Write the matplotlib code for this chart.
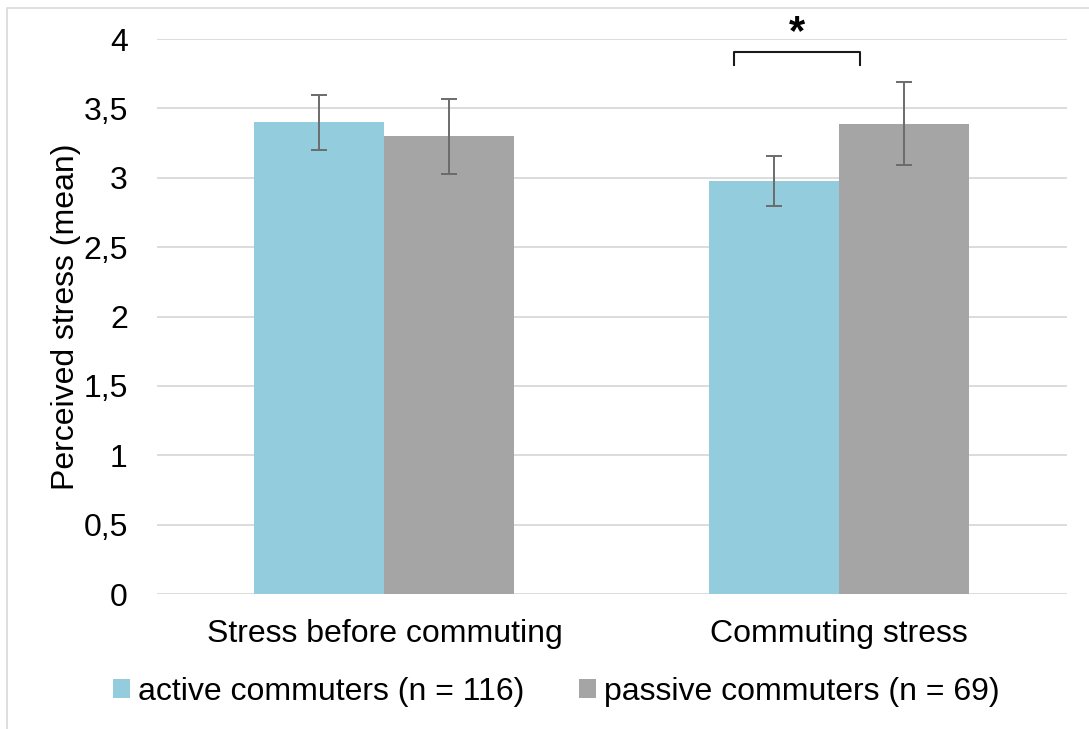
import matplotlib
matplotlib.use("Agg")
import matplotlib.pyplot as plt
from matplotlib.patches import Rectangle, Patch
import numpy as np

plt.rcParams['font.family'] = ['Liberation Sans', 'DejaVu Sans']

categories = ["Stress before commuting", "Commuting stress"]
series_names = ["active commuters (n = 116)", "passive commuters (n = 69)"]
active_means = [3.40, 2.98]
active_err = [0.20, 0.18]
passive_means = [3.30, 3.39]
passive_err = [0.27, 0.30]
y_ticks = [0, 0.5, 1, 1.5, 2, 2.5, 3, 3.5, 4]
y_tick_labels = ["0", "0,5", "1", "1,5", "2", "2,5", "3", "3,5", "4"]
y_label = "Perceived stress (mean)"

W, H = 1089, 729
FS = 23
fig = plt.figure(figsize=(W / 100, H / 100), dpi=100)

# light chart-area frame
fig.patches.append(Rectangle((7 / W, -0.05), 1.2, 1 - 8 / H + 0.05,
                             transform=fig.transFigure, fill=False,
                             edgecolor="#D9D9D9", linewidth=1.2))

ax = fig.add_axes([157 / W, (729 - 594) / H, (1066.7 - 157) / W, (594 - 39) / H])

x = np.arange(len(categories))
bw = 0.2858
c_active = "#93CDDD"
c_passive = "#A5A5A5"
err_kw = dict(ecolor="#6B6B6B", elinewidth=1.4, capsize=6, capthick=1.4)

ax.bar(x - bw / 2, active_means, bw, color=c_active, yerr=active_err,
       error_kw=err_kw, zorder=2, label=series_names[0])
ax.bar(x + bw / 2, passive_means, bw, color=c_passive, yerr=passive_err,
       error_kw=err_kw, zorder=2, label=series_names[1])

ax.set_xlim(-0.5, 1.5)
ax.set_ylim(0, 4)
ax.set_yticks(y_ticks)
ax.set_yticklabels(y_tick_labels)
ax.yaxis.grid(True, color="#D9D9D9", linewidth=1.3, zorder=0)
ax.set_axisbelow(True)
for s in ax.spines.values():
    s.set_visible(False)
ax.tick_params(axis="y", length=0, pad=21, labelsize=FS)
ax.set_xticks(x)
ax.set_xticklabels(categories)
ax.tick_params(axis="x", length=0, pad=18, labelsize=FS)
ax.set_ylabel(y_label, fontsize=FS, labelpad=2)

# significance bracket over the commuting-stress pair
bx0, bx1, btop, bleg = 0.769, 1.046, 3.904, 3.81
ax.plot([bx0, bx0, bx1, bx1], [bleg, btop, btop, bleg], color="#1A1A1A",
        linewidth=1.5, solid_joinstyle="round", clip_on=False, zorder=3)
ax.text((bx0 + bx1) / 2, 4.045, "*", ha="center", va="center", fontsize=30,
        fontweight="bold", clip_on=False)

handles = [Patch(facecolor=c_active, edgecolor="none"),
           Patch(facecolor=c_passive, edgecolor="none")]
fig.legend(handles, series_names, loc="center", bbox_to_anchor=(0.5106, 0.0508),
           ncol=2, frameon=False, fontsize=FS, handlelength=0.53,
           handleheight=0.53, handletextpad=0.25, columnspacing=1.72,
           borderpad=0, borderaxespad=0)

fig.savefig("out.png", dpi=100)
